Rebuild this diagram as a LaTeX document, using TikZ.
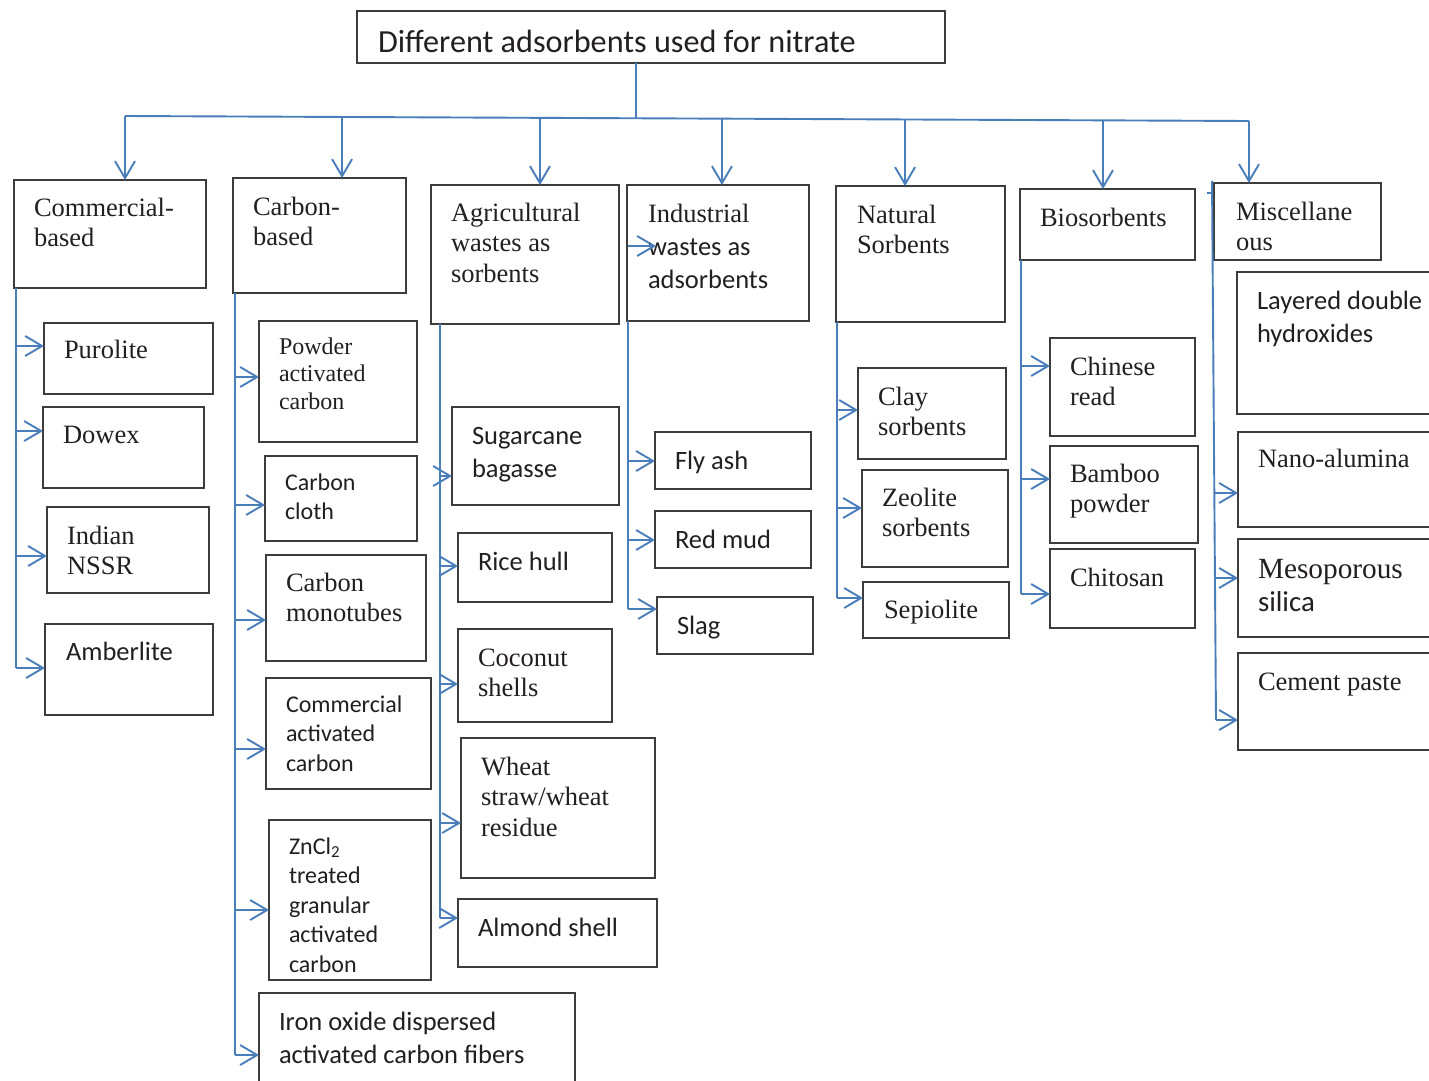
\documentclass[tikz,border=0pt]{standalone}
\usepackage{fontspec}
\setmainfont{Liberation Serif}
\newfontfamily\calfont{Carlito}
\usetikzlibrary{arrows.meta,calc}
\definecolor{lnc}{RGB}{74,126,187}
\definecolor{bxc}{RGB}{60,60,60}
\definecolor{txc}{RGB}{35,31,32}
\newcommand\myR{\rmfamily\fontsize{26.5}{30.5}\selectfont}
\newcommand\myRs{\rmfamily\fontsize{24}{27.5}\selectfont}
\newcommand\myRb{\rmfamily\fontsize{29.3}{33}\selectfont}
\newcommand\myS{\calfont\fontsize{26.5}{33}\selectfont}
\newcommand\mySs{\calfont\fontsize{24}{29.5}\selectfont}
\newcommand\mySb{\calfont\fontsize{28.8}{33}\selectfont}
\newcommand\myT{\calfont\fontsize{32.2}{36}\selectfont}
\tikzset{
  bx/.style={draw=bxc, line width=1.4pt, rectangle, anchor=north west, inner sep=0pt, outer sep=0pt},
  tx/.style={anchor=base west, inner sep=0pt, outer sep=0pt, text=txc},
  conn/.style={draw=lnc, line width=1.9pt},
  arr/.style={conn, -{Straight Barb[length=17pt,width=20pt]}}
}
\newcommand\ibox[8]{%
  \node[bx, minimum width={(#4-#2)*1pt}, minimum height={(#5-#3)*1pt}] (#1) at (#2,#3) {};%
  \node[tx] (#1-t) at (#6,#7) {\parbox[t]{30cm}{\raggedright #8}};}
\newcommand\hc[4]{\coordinate (#1) at (#2,#3); \draw[arr] (#1) -- (#1 -| #4.west);}
\begin{document}
\begin{tikzpicture}[x=1pt,y=-1pt]
\useasboundingbox (0,0) rectangle (1429,1081);
\clip (0,0) rectangle (1429,1081);
\fill[white] (0,0) rectangle (1429,1081);

% title
\ibox{title}{357}{11}{945}{63}{378}{52.5}{\myT Different adsorbents used for nitrate}

% level 1
\ibox{com}{14}{180}{206}{288}{34}{216}{\myR Commercial-\\based}
\ibox{car}{233}{178}{406}{293}{253}{215}{\myR Carbon-\\based}
\ibox{agr}{431}{185}{619}{324}{451}{221}{\myR Agricultural\\wastes as\\sorbents}
\ibox{ind}{627}{185}{809}{321}{648}{222}{\myR Industrial\\\myS wastes as\\adsorbents}
\ibox{nat}{836}{186}{1005}{322}{857}{223}{\myR Natural\\Sorbents}
\ibox{bio}{1020}{189}{1195}{260}{1040}{226}{\myR Biosorbents}
\ibox{mis}{1214}{183}{1381}{260}{1236}{220}{\myR Miscellane\\ous}

% commercial-based children
\ibox{pur}{44}{323}{213}{394}{64}{358}{\myR Purolite}
\ibox{dow}{43}{407}{204}{488}{63}{443}{\myR Dowex}
\ibox{nssr}{47}{507}{209}{593}{67}{544}{\myR Indian\\NSSR}
\ibox{amb}{45}{624}{213}{715}{66}{660}{\myS Amberlite}

% carbon-based children
\ibox{pac}{259}{321}{417}{442}{279}{354}{\myRs Powder\\activated\\carbon}
\ibox{cc}{265}{456}{417}{541}{285}{490}{\mySs Carbon\\cloth}
\ibox{cm}{266}{555}{426}{661}{286}{591}{\myR Carbon\\monotubes}
\ibox{cac}{266}{678}{431}{789}{286}{712}{\mySs Commercial\\activated\\carbon}
\ibox{zn}{269}{820}{431}{980}{289}{854}{\mySs ZnCl\textsubscript{2}\\treated\\granular\\activated\\carbon}
\ibox{iron}{259}{993}{575}{1095}{279}{1030}{\myS Iron oxide dispersed\\activated carbon fibers}

% agricultural children
\ibox{sug}{452}{407}{619}{505}{472}{444}{\myS Sugarcane\\bagasse}
\ibox{rice}{458}{533}{612}{602}{478}{570}{\myS Rice hull}
\ibox{coc}{458}{629}{612}{722}{478}{666}{\myR Coconut\\shells}
\ibox{whe}{461}{738}{655}{878}{481}{775}{\myR Wheat\\straw/wheat\\residue}
\ibox{alm}{458}{899}{657}{967}{478}{936}{\myS Almond shell}

% industrial children
\ibox{fly}{655}{432}{811}{489}{675}{469}{\myS Fly ash}
\ibox{red}{655}{511}{811}{568}{675}{548}{\myS Red mud}
\ibox{slag}{657}{597}{813}{654}{677}{634}{\myS Slag}

% natural children
\ibox{clay}{858}{368}{1006}{459}{878}{405}{\myR Clay\\sorbents}
\ibox{zeo}{862}{470}{1008}{567}{882}{506}{\myR Zeolite\\sorbents}
\ibox{sep}{863}{582}{1009}{638}{884}{618}{\myR Sepiolite}

% biosorbent children
\ibox{chi}{1050}{338}{1195}{436}{1070}{375}{\myR Chinese\\read}
\ibox{bam}{1050}{446}{1198}{543}{1070}{482}{\myR Bamboo\\powder}
\ibox{cht}{1050}{549}{1195}{628}{1070}{586}{\myR Chitosan}

% miscellaneous children
\ibox{ldh}{1237}{272}{1445}{414}{1257}{309}{\myS Layered double\\hydroxides}
\ibox{nano}{1238}{432}{1445}{527}{1258}{467}{\myR Nano-alumina}
\ibox{meso}{1238}{539}{1445}{637}{1258}{578}{\myRb Mesoporous\\\mySb silica}
\ibox{cem}{1238}{653}{1445}{750}{1258}{690}{\myR Cement paste}

% top bus
\coordinate (trk) at (636,63);
\coordinate (busL) at (125,116);
\coordinate (busR) at (1249,121);
\coordinate (busM) at ($(busL)!0.4546!(busR)$);
\draw[conn] (trk) -- (busM);
\draw[conn] (busL) -- (busR);
\draw[arr] (busL) -- (busL |- com.north);
\coordinate (d2) at ($(busL)!0.1931!(busR)$); \draw[arr] (d2) -- (d2 |- car.north);
\coordinate (d3) at ($(busL)!0.3692!(busR)$); \draw[arr] (d3) -- (d3 |- agr.north);
\coordinate (d4) at ($(busL)!0.5311!(busR)$); \draw[arr] (d4) -- (d4 |- ind.north);
\coordinate (d5) at ($(busL)!0.6940!(busR)$); \draw[arr] (d5) -- (d5 |- nat.north);
\coordinate (d6) at ($(busL)!0.8701!(busR)$); \draw[arr] (d6) -- (d6 |- bio.north);
\draw[arr] (busR) -- (busR |- mis.north);

% commercial spine
\coordinate (com-s) at ([xshift=2pt]com.south west);
\hc{c1}{16}{346}{pur}
\hc{c2}{16}{431}{dow}
\hc{c3}{16}{556}{nssr}
\hc{c4}{16}{668}{amb}
\draw[conn] (com-s) -- (c4);

% carbon spine
\coordinate (car-s) at ([xshift=2pt]car.south west);
\hc{k1}{235}{377}{pac}
\hc{k2}{235}{505}{cc}
\hc{k3}{235}{620}{cm}
\hc{k4}{235}{749}{cac}
\hc{k5}{235}{910}{zn}
\hc{k6}{235}{1055}{iron}
\draw[conn] (car-s) -- (k6);

% agricultural spine
\coordinate (agr-s) at ([xshift=9pt]agr.south west);
\hc{a1}{440}{476}{sug}
\hc{a2}{440}{566}{rice}
\hc{a3}{440}{684}{coc}
\hc{a4}{440}{823}{whe}
\hc{a5}{440}{918}{alm}
\draw[conn] (agr-s) -- (a5);

% industrial spine
\coordinate (ind-s) at ([xshift=1pt]ind.south west);
\hc{i1}{628}{461}{fly}
\hc{i2}{628}{540}{red}
\hc{i3}{628}{609}{slag}
\draw[conn] (ind-s) -- (i3);
\coordinate (ind-x) at (628,246);
\draw[arr] (ind-x) -- ++(28,0);

% natural spine
\coordinate (nat-s) at ([xshift=1pt]nat.south west);
\hc{n1}{837}{410}{clay}
\hc{n2}{837}{508}{zeo}
\hc{n3}{837}{598}{sep}
\draw[conn] (nat-s) -- (n3);

% biosorbent spine
\coordinate (bio-s) at ([xshift=1pt]bio.south west);
\hc{b1}{1021}{366}{chi}
\hc{b2}{1021}{479}{bam}
\hc{b3}{1021}{594}{cht}
\draw[conn] (bio-s) -- (b3);

% miscellaneous spine
\coordinate (mis-s) at (1212,181);
\hc{m1}{1214.3}{493}{nano}
\hc{m2}{1214.9}{578}{meso}
\hc{m3}{1216}{720}{cem}
\draw[conn] (mis-s) -- (m3);
\coordinate (mis-k) at (1207,193);
\draw[conn] (mis-k) -- (mis-k -| mis-s);
\end{tikzpicture}
\end{document}
